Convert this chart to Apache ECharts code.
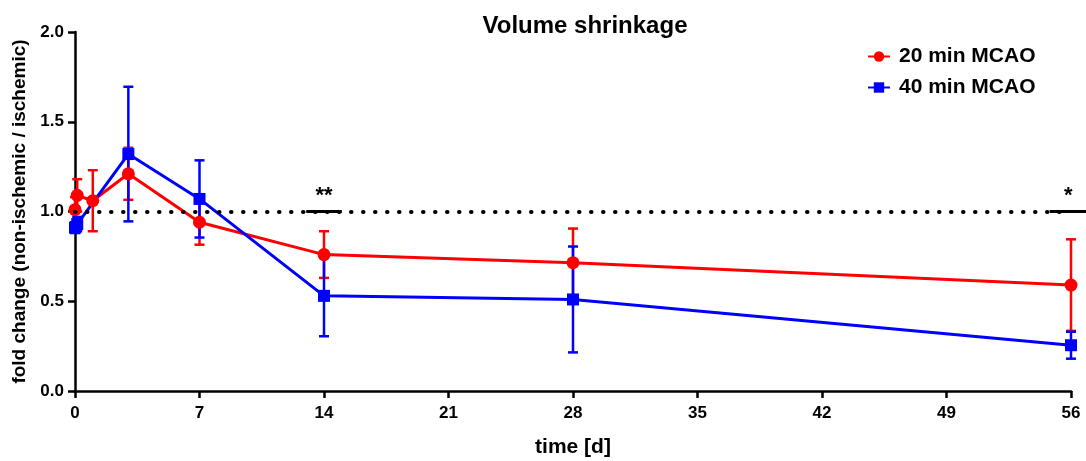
<!DOCTYPE html>
<html>
<head>
<meta charset="utf-8">
<script src="https://cdn.jsdelivr.net/npm/echarts@6/dist/echarts.min.js"></script>
<style>
  html, body { margin: 0; padding: 0; background: #fff; }
  #chart { width: 1086px; height: 461px; }
</style>
</head>
<body>
<div id="chart"></div>
<script>
// time points (days) and means / SD per group
const days20 = [0, 0.125, 1, 3, 7, 14, 28, 56]
const mean20 = [1.01, 1.09, 1.06, 1.21, 0.94, 0.76, 0.715, 0.59]
const err20 = [0.07, 0.09, 0.17, 0.145, 0.125, 0.13, 0.19, 0.255]

const days40 = [0, 0.125, 3, 7, 14, 28, 56]
const mean40 = [0.91, 0.93, 1.32, 1.07, 0.53, 0.51, 0.255]
const err40 = [0.03, 0.04, 0.375, 0.215, 0.225, 0.295, 0.075]

// significance bars
const sigFrom = [13, 54.8]
const sigTo = [15, 56.9]
const sigText = ['**', '*']

const xTicks = [0, 7, 14, 21, 28, 35, 42, 49, 56]

const RED = '#ff0000'
const BLUE = '#0000ff'
const FONT = 'Arial, "Liberation Sans", sans-serif'

const pairs = (xs, ys) => xs.map((x, i) => [x, ys[i]])
const errData = (xs, ys, es) => xs.map((x, i) => [x, ys[i] - es[i], ys[i] + es[i]])

// vertical error bar with caps
const renderErr = (color) => (params, api) => {
  const lo = api.coord([api.value(0), api.value(1)])
  const hi = api.coord([api.value(0), api.value(2)])
  const w = 5
  const style = { stroke: color, lineWidth: 2.5 }
  return {
    type: 'group',
    children: [
      { type: 'line', shape: { x1: lo[0], y1: lo[1], x2: hi[0], y2: hi[1] }, style },
      { type: 'line', shape: { x1: lo[0] - w, y1: lo[1], x2: lo[0] + w, y2: lo[1] }, style },
      { type: 'line', shape: { x1: hi[0] - w, y1: hi[1], x2: hi[0] + w, y2: hi[1] }, style }
    ]
  }
}

const chart = echarts.init(document.getElementById('chart'))

const option = {
  animation: false,
  title: {
    text: 'Volume shrinkage',
    left: 580,
    textAlign: 'center',
    top: 9,
    textStyle: { fontFamily: FONT, fontSize: 24, fontWeight: 'bold', color: '#000' }
  },
  legend: {
    orient: 'vertical',
    left: 862,
    top: 41,
    itemGap: 10,
    itemWidth: 22,
    itemHeight: 13,
    data: ['20 min MCAO', '40 min MCAO'],
    textStyle: { fontFamily: FONT, fontSize: 21, fontWeight: 'bold', color: '#000', padding: [0, 0, 0, 4] }
  },
  grid: { left: 75, right: 15, top: 32, bottom: 70, outerBoundsMode: 'none' },
  xAxis: {
    type: 'value',
    min: 0,
    max: 56,
    interval: 7,
    name: 'time [d]',
    nameLocation: 'middle',
    nameGap: 46,
    nameTextStyle: { fontFamily: FONT, fontSize: 21, fontWeight: 'bold', color: '#000' },
    axisLine: { lineStyle: { color: '#000', width: 2.5 } },
    axisTick: { show: true, length: 7, lineStyle: { color: '#000', width: 2.5 } },
    axisLabel: {
      fontFamily: FONT, fontSize: 17, fontWeight: 'bold', color: '#000', margin: 14,
      customValues: xTicks
    },
    splitLine: { show: false }
  },
  yAxis: {
    type: 'value',
    min: 0,
    max: 2,
    interval: 0.5,
    name: 'fold change (non-ischemic / ischemic)',
    nameLocation: 'middle',
    nameGap: 43,
    nameTextStyle: { fontFamily: FONT, fontSize: 19, fontWeight: 'bold', color: '#000' },
    axisLine: { show: true, lineStyle: { color: '#000', width: 2.5 } },
    axisTick: { show: true, length: 7, lineStyle: { color: '#000', width: 2.5 } },
    axisLabel: {
      fontFamily: FONT, fontSize: 17, fontWeight: 'bold', color: '#000', margin: 11,
      formatter: (v) => v.toFixed(1)
    },
    splitLine: { show: false }
  },
  series: [
    {
      name: 'ref',
      type: 'line',
      data: [],
      markLine: {
        silent: true,
        symbol: 'none',
        label: { show: false },
        lineStyle: { color: '#000', width: 4, type: [0.5, 11.5], cap: 'round' },
        data: [{ yAxis: 1 }]
      }
    },
    {
      name: '20 min MCAO err',
      type: 'custom',
      renderItem: renderErr(RED),
      data: errData(days20, mean20, err20),
      z: 3
    },
    {
      name: '40 min MCAO err',
      type: 'custom',
      renderItem: renderErr(BLUE),
      data: errData(days40, mean40, err40),
      z: 3
    },
    {
      name: '20 min MCAO',
      type: 'line',
      data: pairs(days20, mean20),
      symbol: 'circle',
      symbolSize: 13,
      color: RED,
      lineStyle: { color: RED, width: 3 },
      itemStyle: { color: RED },
      z: 4
    },
    {
      name: '40 min MCAO',
      type: 'line',
      data: pairs(days40, mean40),
      symbol: 'rect',
      symbolSize: 12,
      color: BLUE,
      lineStyle: { color: BLUE, width: 3 },
      itemStyle: { color: BLUE },
      z: 4
    },
    {
      name: 'sig',
      type: 'custom',
      data: sigFrom.map((s, i) => [s, sigTo[i], 1, sigText[i]]),
      renderItem: (params, api) => {
        const a = api.coord([api.value(0), api.value(2)])
        const b = api.coord([api.value(1), api.value(2)])
        return {
          type: 'group',
          children: [
            { type: 'line', shape: { x1: a[0], y1: a[1], x2: b[0], y2: b[1] }, style: { stroke: '#000', lineWidth: 3 } },
            {
              type: 'text',
              style: {
                text: sigText[params.dataIndex],
                x: (a[0] + b[0]) / 2,
                y: a[1] - 5,
                align: 'center',
                verticalAlign: 'bottom',
                font: 'bold 22px ' + FONT,
                fill: '#000'
              }
            }
          ]
        }
      },
      clip: false,
      z: 5
    }
  ]
}

chart.setOption(option)
</script>
</body>
</html>
